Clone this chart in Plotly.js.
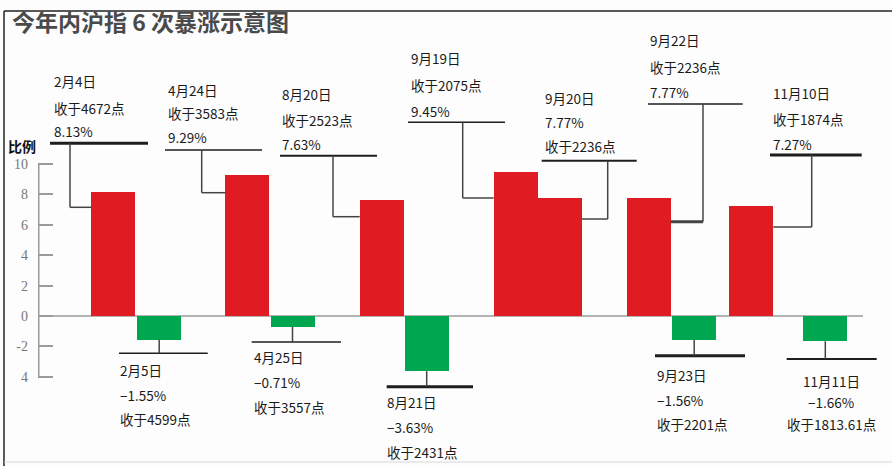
<!DOCTYPE html>
<html><head><meta charset="utf-8">
<script src="https://cdn.plot.ly/plotly-3.0.1.min.js"></script>
<style>html,body{margin:0;padding:0;background:#fdfdfd}#chart{width:892px;height:466px}</style>
</head><body><div id="chart"></div>
<script>
// ---- data ----
const dates  = ['2月4日','2月5日','4月24日','4月25日','8月20日','8月21日','9月19日','9月20日','9月22日','9月23日','11月10日','11月11日'];
const pct    = [8.13, -1.55, 9.29, -0.71, 7.63, -3.63, 9.45, 7.77, 7.77, -1.56, 7.27, -1.66];
const closes = ['4672','4599','3583','3557','2523','2431','2075','2236','2236','2201','1874','1813.61'];
const tickVals = [-4, -2, 0, 2, 4, 6, 8, 10];
const tickText = ['4', '-2', '0', '2', '4', '6', '8', '10'];

// ---- layout (positions / styles) ----
const xPos  = [113.3,159.2,247.3,292.5,381.7,426.7,515.7,560,648.7,694.2,751.2,825.3];
const BAR_W = 44;
const RED = '#e11b22', GREEN = '#00a650';
const ZERO_PX = 316, PX_PER_UNIT = 15.2, H = 466;
const Y = py => (ZERO_PX - py) / PX_PER_UNIT;   // screen row -> axis value

const redCallouts = [
  {i:0,  side:'left',  vx:70,    elbow:207.3, line:143.3, lx:[50,148],      lw:3,   ew:1.5, tx:52,    ty:[81,108,131],      order:['d','c','p']},
  {i:2,  side:'left',  vx:201.7, elbow:192.7, line:150,   lx:[165,262],     lw:1.5, ew:1.5, tx:166,   ty:[90,113,136.7],    order:['d','c','p']},
  {i:4,  side:'left',  vx:333,   elbow:216.7, line:155.7, lx:[280,377],     lw:2,   ew:1.5, tx:280,   ty:[94,120,144],      order:['d','c','p']},
  {i:6,  side:'left',  vx:462.7, elbow:198,   line:122.3, lx:[408,505],     lw:1.5, ew:1.5, tx:409,   ty:[58,85,110.7],     order:['d','c','p']},
  {i:7,  side:'right', vx:607.7, elbow:219,   line:160.7, lx:[541.7,636.7], lw:2,   ew:1.5, tx:543,   ty:[98,121.7,145.7],  order:['d','p','c']},
  {i:8,  side:'right', vx:703,   elbow:221.7, line:104,   lx:[648,742.7],   lw:1.5, ew:3,   tx:648,   ty:[40,67,91.7],      order:['d','c','p']},
  {i:10, side:'right', vx:811.7, elbow:227,   line:155,   lx:[770,861.7],   lw:3,   ew:1.5, tx:770.7, ty:[93,119,144],      order:['d','c','p']}
];
const greenCallouts = [
  {i:1,  line:353.3, lx:[119,207.7],   lw:1.5, tx:118,   ty:[370,395,419],       align:'left'},
  {i:3,  line:342,   lx:[251.7,341],   lw:1.5, tx:251.7, ty:[356.7,381.7,406.7], align:'left'},
  {i:5,  line:386.7, lx:[386.7,473],   lw:3,   tx:385,   ty:[401.7,426.7,451.7], align:'left'},
  {i:9,  line:355.7, lx:[655,745],     lw:3,   tx:655,   ty:[375,400,424],       align:'left'},
  {i:11, line:359,   lx:[786.7,876.7], lw:2,   tx:831,   ty:[380.7,401.7,424],   align:'center'}
];

const fmtPct = v => (v < 0 ? '−' + Math.abs(v).toFixed(2) : v.toFixed(2)) + '%';
const fmtClose = c => '收于' + c + '点';
const txt = (i, k) => k === 'd' ? dates[i] : k === 'p' ? fmtPct(pct[i]) : fmtClose(closes[i]);

const LINE_C = '#1e1e1e', CONN_C = '#444';
const textFont = {family:'Noto Sans CJK SC, sans-serif', size:13.5, color:'#1a1a1a'};
const shapes = [], annotations = [];

function seg(x0, y0, x1, y1, w, c) {
  shapes.push({type:'line', xref:'x', yref:'y', x0, y0, x1, y1, line:{color:c, width:w}, layer:'above'});
}

redCallouts.forEach(c => {
  const edge = c.side === 'left' ? xPos[c.i] - BAR_W/2 : xPos[c.i] + BAR_W/2;
  seg(c.lx[0], Y(c.line), c.lx[1], Y(c.line), c.lw, LINE_C);
  seg(c.vx, Y(c.line), c.vx, Y(c.elbow), 1.5, CONN_C);
  seg(c.vx, Y(c.elbow), edge, Y(c.elbow), c.ew, CONN_C);
  c.order.forEach((k, j) => annotations.push({xref:'x', yref:'y', x:c.tx, y:Y(c.ty[j]), text:txt(c.i, k),
    showarrow:false, xanchor:'left', yanchor:'middle', font:textFont}));
});
greenCallouts.forEach(c => {
  seg(c.lx[0], Y(c.line), c.lx[1], Y(c.line), c.lw, LINE_C);
  seg(xPos[c.i], pct[c.i], xPos[c.i], Y(c.line), 1.5, CONN_C);
  ['d','p','c'].forEach((k, j) => annotations.push({xref:'x', yref:'y', x:c.tx, y:Y(c.ty[j]), text:txt(c.i, k),
    showarrow:false, xanchor:c.align, yanchor:'middle', font:textFont}));
});

// axis line, zero line
shapes.push({type:'line', xref:'x', yref:'y', x0:38.5, x1:38.5, y0:-4, y1:10, line:{color:'#9a9a9a', width:2}, layer:'above'});
shapes.push({type:'line', xref:'x', yref:'y', x0:38, x1:863, y0:0, y1:0, line:{color:'#9a9a9a', width:1.5}, layer:'below'});
// frame
shapes.push({type:'line', xref:'paper', yref:'paper', x0:(4-38)/842, x1:(892-38)/842, y0:1-11/H, y1:1-11/H, line:{color:'#222', width:1.5}});
shapes.push({type:'line', xref:'paper', yref:'paper', x0:(4-38)/842, x1:(4-38)/842, y0:1-11/H, y1:0, line:{color:'#222', width:1.5}});
shapes.push({type:'line', xref:'paper', yref:'paper', x0:(4-38)/842, x1:(892-38)/842, y0:1-462/H, y1:1-462/H, line:{color:'#d8d8d8', width:1}});

annotations.push({xref:'paper', yref:'paper', x:(6-38)/842, y:1-146/H, xanchor:'left', yanchor:'middle', showarrow:false,
  text:'<b>比例</b>', font:{family:'Noto Sans CJK SC, sans-serif', size:14, color:'#111'}});

const trace = {
  type:'bar', x:xPos, y:pct, width:BAR_W,
  marker:{color:pct.map(v => v >= 0 ? RED : GREEN), line:{width:0}},
  hoverinfo:'none', showlegend:false
};

const layout = {
  width:892, height:466,
  margin:{l:38, r:12, t:0, b:0},
  paper_bgcolor:'#fdfdfd', plot_bgcolor:'#fdfdfd',
  title:{text:'今年内沪指 6 次暴涨示意图', x:12/892, xanchor:'left', y:1-23/H, yanchor:'middle', xref:'container', yref:'container',
    font:{family:'Noto Sans CJK SC, sans-serif', size:23, color:'#4a4a4a', weight:'bold'}},
  xaxis:{range:[38,880], visible:false, fixedrange:true},
  yaxis:{range:[Y(H), Y(0)], tickmode:'array', tickvals:tickVals, ticktext:tickText, ticks:'inside', ticklen:15, tickwidth:2,
    tickcolor:'#9a9a9a', showgrid:false, zeroline:false, showline:false, ticklabelstandoff:9,
    tickfont:{family:'Liberation Serif, serif', size:14, color:'#777'}, fixedrange:true},
  shapes, annotations, bargap:0
};
Plotly.newPlot('chart', [trace], layout, {displayModeBar:false, staticPlot:true});
</script></body></html>
